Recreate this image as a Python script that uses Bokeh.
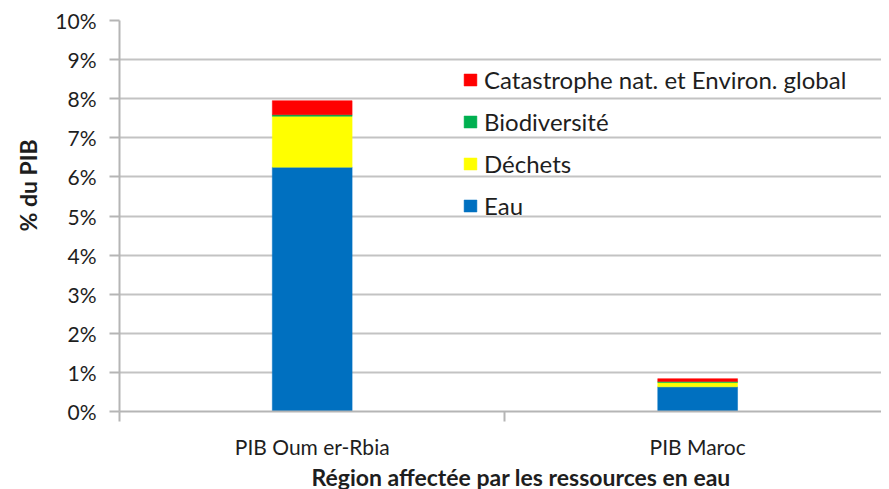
from bokeh.plotting import figure
from bokeh.models import (Range1d, FixedTicker, Legend, LegendItem, ColumnDataSource,
                          PrintfTickFormatter, Title)
from bokeh.embed import file_html
from bokeh.resources import INLINE

# ---- data (values in % of GDP) ----
regions = ["PIB Oum er-Rbia", "PIB Maroc"]
eau = [6.25, 0.63]
dechets = [1.30, 0.11]
biodiversite = [0.04, 0.03]
catastrophe = [0.36, 0.07]
series_keys = ["eau", "dechets", "bio", "cat"]
series_names = ["Eau", "Déchets", "Biodiversité", "Catastrophe nat. et Environ. global"]
colors = ["#0070C0", "#FFFF00", "#00B050", "#FF0000"]
y_ticks = list(range(0, 11))
y_title = "% du PIB"
x_title = "Région affectée par les ressources en eau"

FONT = "Lato"
TXT = "#1e1e1e"
GRID = "#c3c3c3"
AXIS = "#b5b5b5"

x_pos = [i + 0.5 for i in range(len(regions))]
src = ColumnDataSource(dict(x=x_pos, eau=eau, dechets=dechets, bio=biodiversite, cat=catastrophe))

p = figure(width=881, height=489, output_backend="svg", toolbar_location=None,
           x_range=Range1d(0, 1.977), y_range=Range1d(0, 10),
           min_border_left=118, min_border_right=0, min_border_top=20, min_border_bottom=76)
p.outline_line_color = None
p.background_fill_color = "white"
p.border_fill_color = "white"

renderers = p.vbar_stack(series_keys, x="x", width=0.207, color=colors, line_color=colors,
                         line_width=0.5, source=src)

# grid
p.xgrid.visible = False
p.ygrid.grid_line_color = GRID
p.ygrid.grid_line_width = 2
p.ygrid.ticker = FixedTicker(ticks=y_ticks)

# y axis
ya = p.yaxis[0]
ya.ticker = FixedTicker(ticks=y_ticks)
ya.formatter = PrintfTickFormatter(format="%d%%")
ya.major_tick_out = 10
ya.major_tick_in = 0
ya.minor_tick_line_color = None
ya.axis_line_color = AXIS
ya.axis_line_width = 2
ya.major_tick_line_color = AXIS
ya.major_tick_line_width = 2
ya.major_label_text_font = FONT
ya.major_label_text_font_size = "21px"
ya.major_label_text_color = TXT
ya.major_label_standoff = 13

# x axis: labels at category centres, tick marks at category boundaries
xa = p.xaxis[0]
xa.ticker = FixedTicker(ticks=x_pos, minor_ticks=[float(i) for i in range(len(regions) + 1)])
xa.major_label_overrides = {x: r for x, r in zip(x_pos, regions)}
xa.major_tick_line_color = None
xa.major_tick_out = 0
xa.major_tick_in = 0
xa.minor_tick_out = 10
xa.minor_tick_in = 0
xa.minor_tick_line_color = AXIS
xa.minor_tick_line_width = 2
xa.axis_line_color = AXIS
xa.axis_line_width = 2
xa.major_label_text_font = FONT
xa.major_label_text_font_size = "21px"
xa.major_label_text_color = TXT
xa.major_label_standoff = 12

# axis titles (as Titles so they can be offset like the reference)
p.add_layout(Title(text=y_title, align="left", offset=180, standoff=22,
                   text_font=FONT, text_font_size="23px", text_font_style="bold",
                   text_color=TXT), "left")
p.add_layout(Title(text=x_title, align="left", offset=192, standoff=-2,
                   text_font=FONT, text_font_size="23px", text_font_style="bold",
                   text_color=TXT), "below")

# legend (top item = top of stack)
items = [LegendItem(label=n, renderers=[r]) for n, r in zip(series_names, renderers)][::-1]
legend = Legend(items=items, location=(343, 191), padding=0, margin=0, spacing=13,
                glyph_width=16, glyph_height=15, label_height=29, label_standoff=6,
                border_line_color=None, background_fill_alpha=0,
                label_text_font=FONT, label_text_font_size="24px", label_text_color=TXT)
p.add_layout(legend, "center")

open("out.html", "w").write(file_html(p, INLINE))
